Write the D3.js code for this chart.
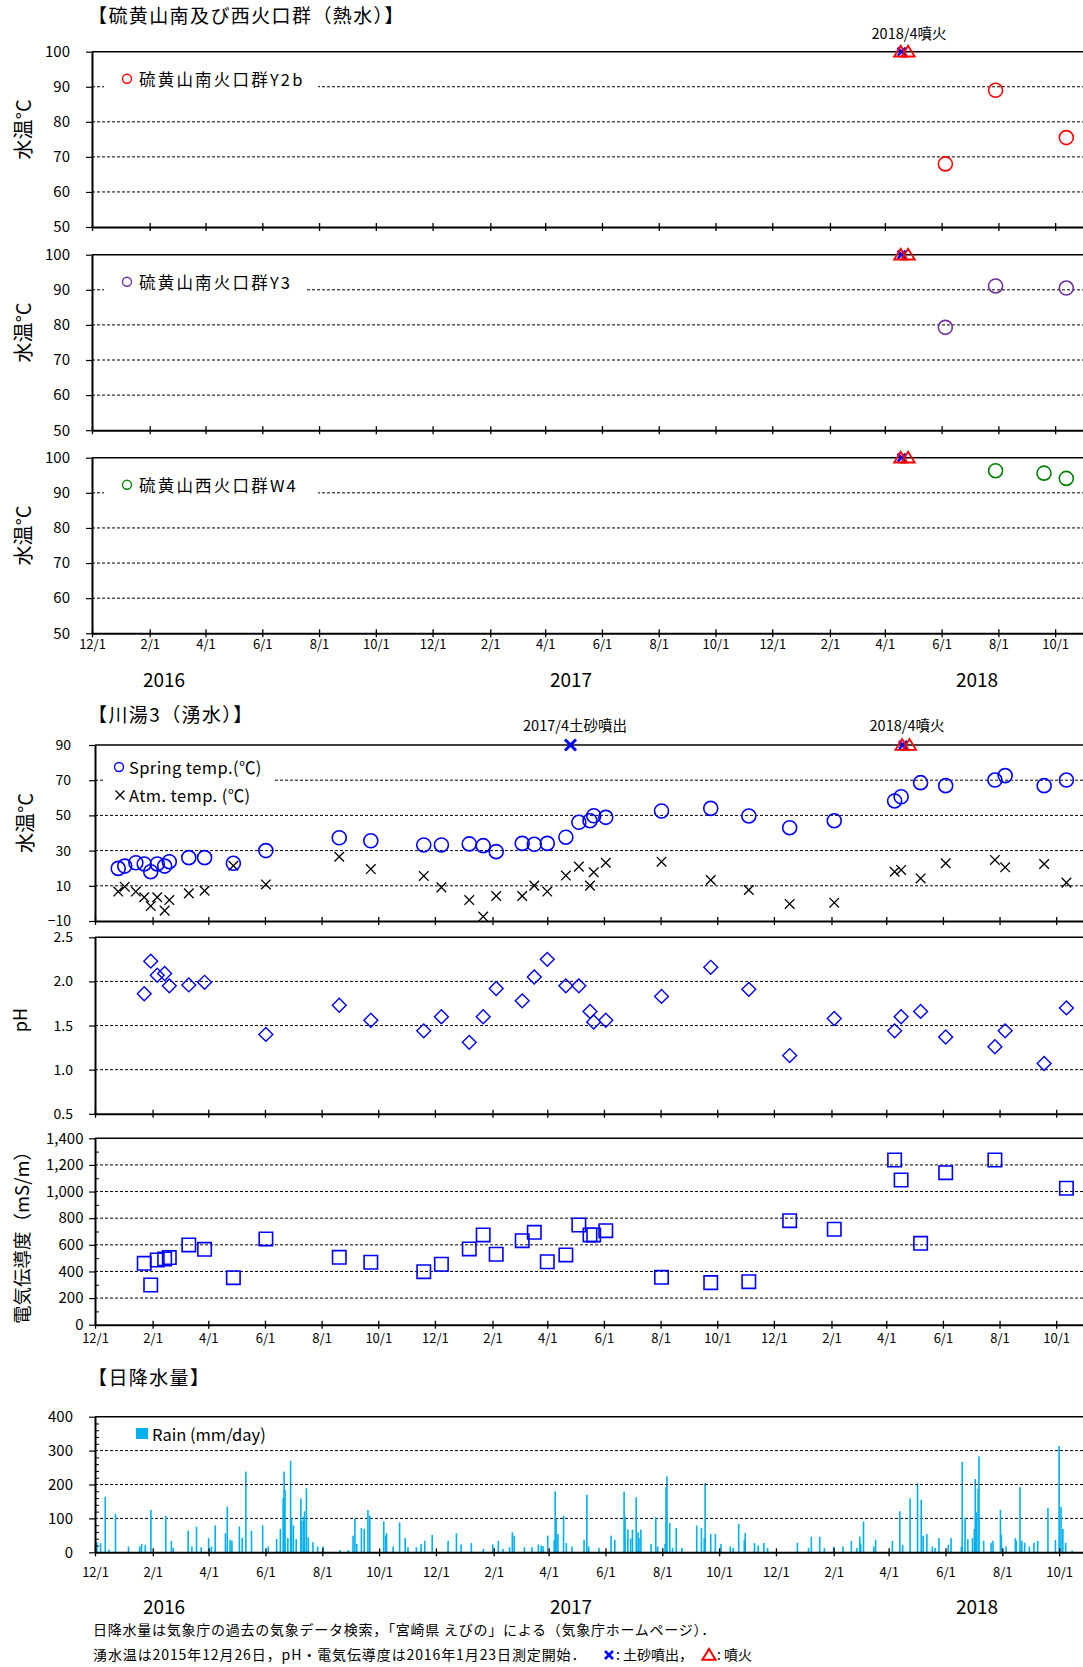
<!DOCTYPE html>
<html>
<head>
<meta charset="utf-8">
<script src="https://cdn.jsdelivr.net/npm/d3@7"></script>
<style>
  body { margin: 0; background: #fff; }
  text { font-family: "Noto Sans CJK JP", "Noto Sans", sans-serif; fill: #000; }
</style>
</head>
<body>
<svg id="chart" width="1083" height="1667"></svg>
<script>
'use strict';

// ---- data ----
const y2bDates = ['2018-06-05', '2018-07-29', '2018-10-13'];
const y2bTemp = [68, 89, 75.5];
const y3Dates = ['2018-06-05', '2018-07-29', '2018-10-13'];
const y3Temp = [79.3, 91.1, 90.5];
const w4Dates = ['2018-07-29', '2018-09-19', '2018-10-13'];
const w4Temp = [96.3, 95.6, 94.1];

const eruptDates = ['2018-04-18', '2018-04-26'];      // red triangles
const ejectSmall = ['2018-04-19'];                     // blue x (2018)
const ejectBig = ['2017-04-26'];                       // blue x (2017)

const springDates = ['2015-12-26', '2016-01-02', '2016-01-14', '2016-01-23', '2016-01-30', '2016-02-06',
  '2016-02-14', '2016-02-19', '2016-03-11', '2016-03-28', '2016-04-28', '2016-06-02', '2016-08-20',
  '2016-09-23', '2016-11-19', '2016-12-08', '2017-01-07', '2017-01-22', '2017-02-05', '2017-03-05',
  '2017-03-18', '2017-04-01', '2017-04-21', '2017-05-05', '2017-05-17', '2017-05-21', '2017-06-03',
  '2017-08-02', '2017-09-24', '2017-11-04', '2017-12-18', '2018-02-04', '2018-04-10', '2018-04-17',
  '2018-05-08', '2018-06-04', '2018-07-27', '2018-08-07', '2018-09-18', '2018-10-12'];
const springTemp = [19.9, 21.2, 23.1, 22.4, 18.0, 22.4, 21.2, 23.7, 26.0, 26.0, 22.8, 30.0, 37.3, 35.6,
  33.2, 33.2, 33.8, 32.8, 29.4, 34.1, 33.6, 34.1, 37.6, 46.1, 47.0, 49.8, 48.9, 52.5, 54.0, 49.7, 43.0,
  47.0, 58.2, 60.6, 68.6, 66.9, 70.1, 72.6, 66.9, 70.1];
const atmTemp = [6.7, 9.5, 6.7, 3.5, -1.5, 3.5, -4.1, 1.9, 5.7, 7.2, 21.4, 10.8, 26.5, 19.5, 15.6, 9.1,
  1.9, -7.5, 4.2, 4.2, 10.1, 6.7, 15.8, 20.9, 10.1, 17.7, 23.1, 23.7, 13.3, 7.6, -0.3, 0.4, 18.0, 19.0,
  14.2, 22.8, 24.7, 20.5, 22.4, 11.8];

const phDates = ['2016-01-23', '2016-01-30', '2016-02-06', '2016-02-14', '2016-02-19', '2016-03-11',
  '2016-03-28', '2016-06-02', '2016-08-20', '2016-09-23', '2016-11-19', '2016-12-08', '2017-01-07',
  '2017-01-22', '2017-02-05', '2017-03-05', '2017-03-18', '2017-04-01', '2017-04-21', '2017-05-05',
  '2017-05-17', '2017-05-21', '2017-06-03', '2017-08-02', '2017-09-24', '2017-11-04', '2017-12-18',
  '2018-02-04', '2018-04-10', '2018-04-17', '2018-05-08', '2018-06-04', '2018-07-27', '2018-08-07',
  '2018-09-18', '2018-10-12'];
const phVals = [1.86, 2.23, 2.07, 2.09, 1.95, 1.96, 1.99, 1.40, 1.73, 1.56, 1.44, 1.60, 1.31, 1.60, 1.92,
  1.78, 2.05, 2.25, 1.95, 1.95, 1.66, 1.54, 1.56, 1.83, 2.16, 1.91, 1.16, 1.58, 1.44, 1.60, 1.66, 1.37,
  1.26, 1.44, 1.07, 1.70];

const ecDates = ['2016-01-23', '2016-01-30', '2016-02-06', '2016-02-14', '2016-02-19', '2016-03-11',
  '2016-03-28', '2016-04-28', '2016-06-02', '2016-08-20', '2016-09-23', '2016-11-19', '2016-12-08',
  '2017-01-07', '2017-01-22', '2017-02-05', '2017-03-05', '2017-03-18', '2017-04-01', '2017-04-21',
  '2017-05-05', '2017-05-17', '2017-05-21', '2017-06-03', '2017-08-02', '2017-09-24', '2017-11-04',
  '2017-12-18', '2018-02-04', '2018-04-10', '2018-04-17', '2018-05-08', '2018-06-04', '2018-07-27',
  '2018-10-12'];
const ecVals = [461, 298, 486, 494, 504, 599, 566, 353, 644, 506, 469, 398, 454, 569, 674, 529, 631, 694,
  473, 524, 749, 674, 674, 706, 356, 316, 323, 781, 717, 1237, 1087, 611, 1142, 1237, 1025];

// daily rain, only the days that show a bar
const rainDays = [
  ['2015-12-03', 30], ['2015-12-07', 27], ['2015-12-12', 164], ['2015-12-16', 8], ['2015-12-23', 113],
  ['2016-01-06', 17], ['2016-01-18', 17], ['2016-01-20', 25], ['2016-01-24', 22], ['2016-01-30', 125],
  ['2016-02-15', 108], ['2016-02-21', 34], ['2016-02-23', 13], ['2016-03-10', 64], ['2016-03-14', 17],
  ['2016-03-19', 76], ['2016-03-24', 15], ['2016-04-01', 42], ['2016-04-04', 17], ['2016-04-08', 79],
  ['2016-04-19', 56], ['2016-04-21', 135], ['2016-04-24', 37], ['2016-04-26', 34], ['2016-05-04', 76],
  ['2016-05-07', 42], ['2016-05-11', 238], ['2016-05-17', 64], ['2016-05-29', 79], ['2016-06-04', 17],
  ['2016-06-13', 39], ['2016-06-17', 69], ['2016-06-20', 160], ['2016-06-21', 238], ['2016-06-22', 184],
  ['2016-06-25', 42], ['2016-06-28', 270], ['2016-06-29', 98], ['2016-07-01', 79], ['2016-07-04', 39],
  ['2016-07-09', 159], ['2016-07-10', 93], ['2016-07-12', 105], ['2016-07-13', 121], ['2016-07-15', 189],
  ['2016-07-17', 44], ['2016-07-22', 30], ['2016-07-27', 17], ['2016-08-02', 17], ['2016-08-20', 7],
  ['2016-08-29', 7], ['2016-09-03', 49], ['2016-09-05', 100], ['2016-09-07', 25], ['2016-09-12', 72],
  ['2016-09-15', 69], ['2016-09-19', 125], ['2016-09-21', 108], ['2016-10-06', 91], ['2016-10-08', 49],
  ['2016-10-09', 57], ['2016-10-16', 17], ['2016-10-23', 88], ['2016-10-29', 42], ['2016-11-01', 15],
  ['2016-11-10', 15], ['2016-11-15', 25], ['2016-11-19', 34], ['2016-11-27', 51], ['2016-12-14', 34],
  ['2016-12-23', 56], ['2016-12-28', 23], ['2017-01-08', 27], ['2017-01-21', 10], ['2017-01-31', 23],
  ['2017-02-06', 34], ['2017-02-11', 10], ['2017-02-18', 15], ['2017-02-21', 59], ['2017-02-23', 49],
  ['2017-03-06', 15], ['2017-03-14', 15], ['2017-03-21', 23], ['2017-03-24', 20], ['2017-03-26', 18],
  ['2017-03-31', 49], ['2017-04-07', 36], ['2017-04-08', 180], ['2017-04-09', 98], ['2017-04-11', 54],
  ['2017-04-17', 108], ['2017-04-20', 27], ['2017-04-26', 17], ['2017-05-09', 37], ['2017-05-12', 170],
  ['2017-05-14', 17], ['2017-05-25', 13], ['2017-06-07', 49], ['2017-06-11', 37], ['2017-06-21', 179],
  ['2017-06-22', 105], ['2017-06-25', 67], ['2017-06-28', 41], ['2017-06-30', 67], ['2017-07-04', 162],
  ['2017-07-06', 59], ['2017-07-07', 42], ['2017-07-09', 67], ['2017-07-20', 25], ['2017-07-25', 103],
  ['2017-07-27', 17], ['2017-08-04', 25], ['2017-08-05', 192], ['2017-08-06', 224], ['2017-08-09', 86],
  ['2017-08-12', 13], ['2017-08-16', 72], ['2017-08-22', 13], ['2017-09-07', 79], ['2017-09-12', 72],
  ['2017-09-15', 42], ['2017-09-16', 204], ['2017-09-22', 54], ['2017-09-27', 54], ['2017-10-03', 25],
  ['2017-10-13', 17], ['2017-10-16', 13], ['2017-10-22', 84], ['2017-10-28', 36], ['2017-10-29', 57],
  ['2017-11-08', 27], ['2017-11-12', 20], ['2017-11-18', 28], ['2017-11-22', 13], ['2017-12-24', 28],
  ['2018-01-05', 13], ['2018-01-08', 46], ['2018-01-17', 46], ['2018-01-22', 13], ['2018-02-01', 17],
  ['2018-02-11', 17], ['2018-02-20', 34], ['2018-02-26', 13], ['2018-03-01', 46], ['2018-03-02', 25],
  ['2018-03-05', 91], ['2018-03-16', 17], ['2018-03-18', 37], ['2018-04-05', 34], ['2018-04-13', 121],
  ['2018-04-16', 22], ['2018-04-24', 159], ['2018-05-02', 204], ['2018-05-06', 155], ['2018-05-08', 49],
  ['2018-05-12', 54], ['2018-05-18', 17], ['2018-05-21', 13], ['2018-05-25', 42], ['2018-06-04', 22],
  ['2018-06-07', 42], ['2018-06-18', 17], ['2018-06-19', 267], ['2018-06-22', 101], ['2018-06-25', 39],
  ['2018-06-30', 42], ['2018-07-02', 69], ['2018-07-03', 216], ['2018-07-04', 118], ['2018-07-06', 187],
  ['2018-07-07', 283], ['2018-07-12', 34], ['2018-07-20', 28], ['2018-07-22', 34], ['2018-07-30', 125],
  ['2018-07-31', 52], ['2018-08-05', 17], ['2018-08-15', 42], ['2018-08-16', 34], ['2018-08-20', 192],
  ['2018-08-22', 34], ['2018-08-25', 28], ['2018-08-30', 17], ['2018-09-04', 28], ['2018-09-08', 34],
  ['2018-09-19', 131], ['2018-09-27', 36], ['2018-10-01', 314], ['2018-10-03', 134], ['2018-10-05', 69],
  ['2018-10-08', 28], ['2018-10-15', 5]
];

const tempTicks = [50, 60, 70, 80, 90, 100];
const springTicks = [-10, 10, 30, 50, 70, 90];
const phTicks = [0.5, 1.0, 1.5, 2.0, 2.5];
const ecTicks = [0, 200, 400, 600, 800, 1000, 1200, 1400];
const rainTicks = [0, 100, 200, 300, 400];

// ---- setup ----
const svg = d3.select('#chart');
const parse = d3.timeParse('%Y-%m-%d');
const start = parse('2015-12-01'), end = parse('2018-11-01');
const tickDates = d3.timeMonth.range(start, parse('2018-10-02')).filter((d, i) => i % 2 === 0);
const fmtMD = d3.timeFormat('%-m/%-d');
const BLUE = '#0000ff', RED = '#ff0000';

const xTop = d3.scaleTime().domain([start, end]).range([92, 1084]);
const xLow = d3.scaleTime().domain([start, end]).range([95, 1085]);
const xRain = d3.scaleTime().domain([start, end]).range([95, 1088]);

const yP1 = d3.scaleLinear().domain([50, 100]).range([227, 51.7]);
const yP2 = d3.scaleLinear().domain([50, 100]).range([430.2, 254.7]);
const yP3 = d3.scaleLinear().domain([50, 100]).range([633.3, 457.7]);
const ySp = d3.scaleLinear().domain([-10, 90]).range([921, 745]);
const yPh = d3.scaleLinear().domain([0.5, 2.5]).range([1113.8, 937.3]);
const yEc = d3.scaleLinear().domain([0, 1400]).range([1324.7, 1138.3]);
const yRain = d3.scaleLinear().domain([0, 400]).range([1552.3, 1416.7]);

const xPath = s => `M${-s},${-s}L${s},${s}M${-s},${s}L${s},${-s}`;
const triPath = s => `M0,${-s}L${s * 1.1},${s * 0.8}L${-s * 1.1},${s * 0.8}Z`;

function drawPanel(o) {
  const g = svg.append('g');
  const [xa, xb] = o.x.range();
  const top = o.ticks[o.ticks.length - 1];
  // grid
  g.selectAll('line.grid').data(o.ticks.slice(1)).join('line')
    .attr('x1', xa).attr('x2', xb)
    .attr('y1', d => o.y(d)).attr('y2', d => o.y(d))
    .attr('stroke', '#000')
    .attr('stroke-width', d => d === top ? 1.5 : 1)
    .attr('stroke-dasharray', d => d === top ? null : '3,2');
  // legend background
  if (o.legendBox) {
    g.append('rect').attr('x', o.legendBox[0]).attr('y', o.legendBox[1])
      .attr('width', o.legendBox[2]).attr('height', o.legendBox[3]).attr('fill', '#fff');
  }
  // y axis
  const ya = g.append('g').attr('transform', `translate(${xa},0)`)
    .call(d3.axisLeft(o.y).tickValues(o.ticks).tickSize(6).tickSizeOuter(0)
      .tickPadding(o.pad).tickFormat(o.fmt));
  ya.select('.domain').attr('stroke-width', 2);
  ya.selectAll('.tick line').attr('stroke-width', 1.2);
  ya.selectAll('text').attr('font-size', o.labelSize || 15).attr('font-family', null);
  if (o.minor) {
    g.append('g').attr('transform', `translate(${xa},0)`)
      .call(d3.axisRight(o.y).tickValues(o.minor).tickSize(4).tickFormat(''))
      .call(s => s.select('.domain').remove());
  }
  // x axis
  const y0 = o.y.range()[0];
  const xa1 = g.append('g').attr('transform', `translate(0,${y0})`)
    .call(d3.axisBottom(o.x).tickValues(tickDates).tickSize(4).tickSizeOuter(0)
      .tickPadding(o.xPad || 2).tickFormat(o.xLabels ? fmtMD : ''));
  xa1.select('.domain').attr('stroke-width', 2);
  xa1.selectAll('.tick line').attr('stroke-width', 1.3);
  xa1.selectAll('text').attr('font-size', 13).attr('font-family', null);
  g.append('g').attr('transform', `translate(0,${y0})`)
    .call(d3.axisTop(o.x).tickValues(tickDates).tickSize(4).tickFormat(''))
    .call(s => s.select('.domain').remove())
    .selectAll('.tick line').attr('stroke-width', 1.3);
  // y title
  if (o.title) {
    g.append('text')
      .attr('transform', `translate(${o.titlePos[0]},${o.titlePos[1]}) rotate(-90)`)
      .attr('text-anchor', 'middle').attr('dominant-baseline', 'central')
      .attr('font-size', o.titleSize || 20).text(o.title);
  }
  return g;
}

function drawEvents(g, x, y, yVal, big) {
  g.selectAll(null).data(ejectSmall.map(parse)).join('path')
    .attr('d', xPath(4)).attr('transform', d => `translate(${x(d)},${y(yVal)})`)
    .attr('stroke', BLUE).attr('stroke-width', 2.5).attr('fill', 'none');
  g.selectAll(null).data(eruptDates.map(parse)).join('path')
    .attr('d', triPath(6)).attr('transform', d => `translate(${x(d)},${y(yVal)})`)
    .attr('stroke', RED).attr('stroke-width', 1.8).attr('fill', 'none');
  if (big) {
    g.selectAll(null).data(ejectBig.map(parse)).join('path')
      .attr('d', xPath(5.5)).attr('transform', d => `translate(${x(d)},${y(yVal)})`)
      .attr('stroke', BLUE).attr('stroke-width', 3).attr('fill', 'none');
  }
}

function circles(g, x, y, dates, vals, color, r) {
  g.selectAll(null).data(dates.map((d, i) => [parse(d), vals[i]])).join('circle')
    .attr('cx', d => x(d[0])).attr('cy', d => y(d[1])).attr('r', r)
    .attr('fill', 'none').attr('stroke', color).attr('stroke-width', 1.6);
}

const sectionTitle = (y, t) => svg.append('text').attr('x', 88).attr('y', y)
  .attr('font-size', 19).attr('letter-spacing', 1.4).text(t);

// ---- section 1: hot water ----
sectionTitle(23, '【硫黄山南及び西火口群（熱水）】');

const hot = [
  { y: yP1, dates: y2bDates, vals: y2bTemp, color: RED, label: '硫黄山南火口群Y2b', box: [104, 71, 214, 22] },
  { y: yP2, dates: y3Dates, vals: y3Temp, color: '#7030a0', label: '硫黄山南火口群Y3', box: [104, 274, 202, 22] },
  { y: yP3, dates: w4Dates, vals: w4Temp, color: '#008000', label: '硫黄山西火口群W4', box: [104, 477, 214, 22] }
];
hot.forEach((p, i) => {
  const g = drawPanel({
    x: xTop, y: p.y, ticks: tempTicks, fmt: d3.format('d'), pad: 16,
    xLabels: i === 2, xPad: 2, legendBox: p.box,
    title: '水温°C', titlePos: [22, (p.y.range()[0] + p.y.range()[1]) / 2 - 10]
  });
  const ly = p.y(90) - 8;
  g.append('circle').attr('cx', 127).attr('cy', ly).attr('r', 4.5)
    .attr('fill', 'none').attr('stroke', p.color).attr('stroke-width', 1.4);
  g.append('text').attr('x', 139).attr('y', ly).attr('dominant-baseline', 'central')
    .attr('font-size', 16.5).attr('letter-spacing', 2.2).text(p.label);
  drawEvents(g, xTop, p.y, 100, false);
  circles(g, xTop, p.y, p.dates, p.vals, p.color, 7);
});
svg.append('text').attr('x', 909).attr('y', 39).attr('text-anchor', 'middle')
  .attr('font-size', 14.5).text('2018/4噴火');

// year labels
[['2016', 164], ['2017', 571], ['2018', 977]].forEach(([t, x]) => {
  svg.append('text').attr('x', x).attr('y', 687).attr('text-anchor', 'middle').attr('font-size', 19).text(t);
  svg.append('text').attr('x', x).attr('y', 1614).attr('text-anchor', 'middle').attr('font-size', 19).text(t);
});

// ---- section 2: spring ----
sectionTitle(722, '【川湯3（湧水）】');

const gSp = drawPanel({
  x: xLow, y: ySp, ticks: springTicks, fmt: d3.format('d'), pad: 18, labelSize: 14,
  legendBox: [103, 752, 170, 56], title: '水温°C', titlePos: [24, 823]
});
gSp.append('circle').attr('cx', 119).attr('cy', 767).attr('r', 4.5)
  .attr('fill', 'none').attr('stroke', BLUE).attr('stroke-width', 1.4);
gSp.append('text').attr('x', 129).attr('y', 767).attr('dominant-baseline', 'central')
  .attr('font-size', 16.5).attr('letter-spacing', 0.4).text('Spring temp.(℃)');
gSp.append('path').attr('d', xPath(4.5)).attr('transform', 'translate(120,795)')
  .attr('stroke', '#000').attr('stroke-width', 1.3);
gSp.append('text').attr('x', 129).attr('y', 795).attr('dominant-baseline', 'central')
  .attr('font-size', 16.5).attr('letter-spacing', 0.4).text('Atm. temp. (℃)');

gSp.selectAll(null).data(springDates.map((d, i) => [parse(d), atmTemp[i]])).join('path')
  .attr('d', xPath(4.8)).attr('transform', d => `translate(${xLow(d[0])},${ySp(d[1])})`)
  .attr('stroke', '#000').attr('stroke-width', 1.3);
circles(gSp, xLow, ySp, springDates, springTemp, BLUE, 7);
drawEvents(gSp, xLow, ySp, 90, true);
svg.append('text').attr('x', 575).attr('y', 731).attr('text-anchor', 'middle')
  .attr('font-size', 14.5).text('2017/4土砂噴出');
svg.append('text').attr('x', 907).attr('y', 731).attr('text-anchor', 'middle')
  .attr('font-size', 14.5).text('2018/4噴火');

// pH
const gPh = drawPanel({
  x: xLow, y: yPh, ticks: phTicks, fmt: d3.format('.1f'), pad: 16, labelSize: 14,
  title: 'pH', titlePos: [19, 1020], titleSize: 18
});
gPh.selectAll(null).data(phDates.map((d, i) => [parse(d), phVals[i]])).join('path')
  .attr('d', d3.symbol(d3.symbolSquare, 96)())
  .attr('transform', d => `translate(${xLow(d[0])},${yPh(d[1])}) rotate(45)`)
  .attr('fill', 'none').attr('stroke', BLUE).attr('stroke-width', 1.4);

// EC
const gEc = drawPanel({
  x: xLow, y: yEc, ticks: ecTicks, fmt: d3.format(','), pad: 5.5,
  minor: d3.range(100, 1400, 200), xLabels: true, xPad: 5,
  title: '電気伝導度（mS/m）', titlePos: [21, 1233], titleSize: 18.5
});
gEc.selectAll(null).data(ecDates.map((d, i) => [parse(d), ecVals[i]])).join('path')
  .attr('d', d3.symbol(d3.symbolSquare, 180)())
  .attr('transform', d => `translate(${xLow(d[0])},${yEc(d[1])})`)
  .attr('fill', 'none').attr('stroke', BLUE).attr('stroke-width', 1.6);

// ---- section 3: rain ----
sectionTitle(1385, '【日降水量】');
const gR = drawPanel({
  x: xRain, y: yRain, ticks: rainTicks, fmt: d3.format('d'), pad: 16,
  minor: d3.range(20, 400, 20).filter(v => v % 100 !== 0), xLabels: true, xPad: 11,
  legendBox: [130, 1424, 140, 20]
});
gR.insert('g', ':nth-child(2)').selectAll('rect').data(rainDays).join('rect')
  .attr('x', d => xRain(parse(d[0])) - 0.8).attr('width', 1.6)
  .attr('y', d => yRain(d[1])).attr('height', d => yRain(0) - yRain(d[1]))
  .attr('fill', '#00b0f0');
gR.append('rect').attr('x', 136).attr('y', 1428).attr('width', 12).attr('height', 11).attr('fill', '#00b0f0');
gR.append('text').attr('x', 152).attr('y', 1434).attr('dominant-baseline', 'central')
  .attr('font-size', 16.5).text('Rain (mm/day)');

// ---- footnotes ----
svg.append('text').attr('x', 93).attr('y', 1635).attr('font-size', 14).attr('letter-spacing', 0.75)
  .text('日降水量は気象庁の過去の気象データ検索，「宮崎県 えびの」による（気象庁ホームページ）．');
svg.append('text').attr('x', 93).attr('y', 1660).attr('font-size', 14).attr('letter-spacing', 0.9)
  .text('湧水温は2015年12月26日，pH・電気伝導度は2016年1月23日測定開始．');
svg.append('path').attr('d', xPath(4)).attr('transform', 'translate(609,1655)')
  .attr('stroke', BLUE).attr('stroke-width', 2.5);
svg.append('text').attr('x', 616).attr('y', 1660).attr('font-size', 14).text(' : 土砂噴出，');
svg.append('path').attr('d', triPath(6)).attr('transform', 'translate(709,1655)')
  .attr('stroke', RED).attr('stroke-width', 2).attr('fill', 'none');
svg.append('text').attr('x', 717).attr('y', 1660).attr('font-size', 14).text(' : 噴火');
</script>
</body>
</html>
